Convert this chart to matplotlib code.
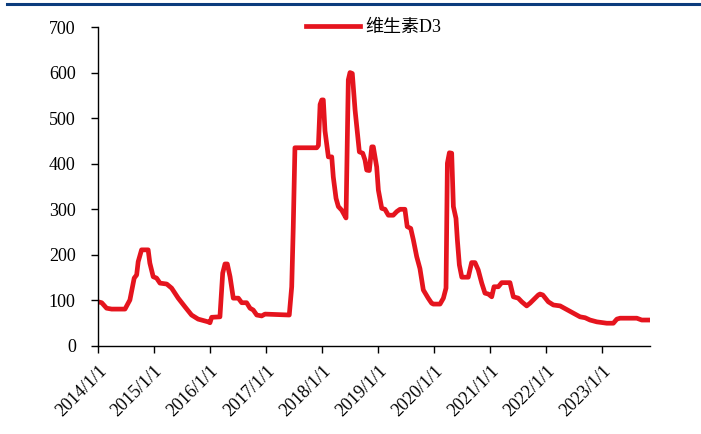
import matplotlib
matplotlib.use("Agg")
import matplotlib.pyplot as plt
import pandas as pd
from matplotlib.lines import Line2D

plt.rcParams['font.family'] = ['Liberation Serif', 'Noto Sans CJK SC']

# values
dates = [
    "2014-01-01", "2014-01-25", "2014-02-26", "2014-03-31", "2014-06-26", "2014-07-28",
    "2014-08-25", "2014-09-10", "2014-09-20", "2014-10-12", "2014-11-24", "2014-12-05",
    "2014-12-27", "2015-01-18", "2015-02-09", "2015-03-25", "2015-04-26", "2015-06-08",
    "2015-07-22", "2015-09-03", "2015-10-16", "2015-12-20", "2016-01-01", "2016-01-12",
    "2016-03-06", "2016-03-24", "2016-04-08", "2016-04-23", "2016-05-11", "2016-06-01",
    "2016-07-04", "2016-07-26", "2016-08-27", "2016-09-18", "2016-10-09", "2016-11-01",
    "2016-12-03", "2016-12-25", "2017-06-01", "2017-06-17", "2017-06-27", "2017-07-08",
    "2017-11-27", "2017-12-08", "2017-12-19", "2017-12-30", "2018-01-09", "2018-01-20",
    "2018-02-11", "2018-03-05", "2018-03-15", "2018-04-02", "2018-04-17", "2018-05-09",
    "2018-05-19", "2018-06-06", "2018-06-21", "2018-07-02", "2018-07-17", "2018-08-04",
    "2018-08-15", "2018-09-01", "2018-09-23", "2018-10-08", "2018-10-19", "2018-11-05",
    "2018-11-21", "2018-12-01", "2018-12-23", "2019-01-03", "2019-01-25", "2019-02-15",
    "2019-03-09", "2019-04-10", "2019-05-03", "2019-05-24", "2019-06-25", "2019-07-10",
    "2019-08-02", "2019-08-19", "2019-09-10", "2019-10-01", "2019-10-23", "2019-11-24",
    "2019-12-16", "2019-12-27", "2020-02-09", "2020-03-02", "2020-03-19", "2020-03-28",
    "2020-04-10", "2020-04-25", "2020-05-06", "2020-05-23", "2020-06-01", "2020-06-14",
    "2020-06-30", "2020-08-11", "2020-09-02", "2020-09-24", "2020-10-15", "2020-11-07",
    "2020-11-28", "2020-12-20", "2021-01-11", "2021-01-26", "2021-02-23", "2021-03-17",
    "2021-05-10", "2021-06-01", "2021-07-03", "2021-07-26", "2021-08-27", "2021-09-18",
    "2021-10-21", "2021-11-11", "2021-11-22", "2021-12-10", "2022-01-15", "2022-02-17",
    "2022-04-02", "2022-05-15", "2022-06-28", "2022-08-10", "2022-09-12", "2022-10-14",
    "2022-11-27", "2023-01-31", "2023-03-15", "2023-04-07", "2023-04-28", "2023-08-15",
    "2023-09-16", "2023-11-09",
]
vd3 = [
    97, 95, 83, 81, 81, 101,
    149, 156, 185, 211, 211, 182,
    152, 149, 138, 136, 127, 105,
    86, 68, 59, 53, 51, 63,
    64, 160, 180, 180, 152, 105,
    105, 95, 95, 83, 79, 68,
    66, 70, 68, 130, 260, 435,
    435, 440, 530, 540, 540, 472,
    415, 415, 371, 324, 306, 298,
    292, 281, 584, 600, 598, 518,
    481, 426, 423, 408, 386, 385,
    437, 437, 393, 342, 302, 300,
    287, 287, 295, 300, 300, 262,
    258, 233, 196, 170, 123, 105,
    94, 92, 92, 105, 127, 401,
    424, 423, 306, 280, 233, 178,
    151, 151, 183, 183, 167, 138,
    116, 114, 108, 130, 130, 139,
    139, 108, 105, 97, 88, 94,
    105, 112, 114, 112, 97, 90,
    88, 80, 72, 64, 62, 57,
    53, 50, 50, 59, 61, 61,
    57, 57,
]
tick_years = list(range(2014, 2024))
tick_labels = [f"{y}/1/1" for y in tick_years]

x = pd.to_datetime(dates)

fig = plt.figure(figsize=(7.01, 4.34), dpi=100)
ax = fig.add_axes([98 / 701, 1 - 346 / 434, (650 - 98) / 701, (346 - 27) / 434])

ax.plot(x, vd3, color='#E5141E', lw=3.4, label='维生素D3', solid_joinstyle='round')

ax.set_ylim(0, 700)
ax.set_yticks(range(0, 701, 100))
ax.set_xlim(pd.Timestamp("2014-01-01"), pd.Timestamp("2023-11-09"))
ax.set_xticks([pd.Timestamp(f"{y}-01-01") for y in tick_years])
ax.set_xticklabels(tick_labels, rotation=45, ha='right', rotation_mode='anchor')

for s in ['top', 'right']:
    ax.spines[s].set_visible(False)
for s in ['left', 'bottom']:
    ax.spines[s].set_linewidth(1.0)
ax.tick_params(direction='out', length=5, width=1, labelsize=13)
ax.tick_params(axis='y', pad=11)
ax.tick_params(axis='x', pad=7)

ax.legend(loc='upper center', bbox_to_anchor=(0.5, 1.075), frameon=False,
          fontsize=13, handlelength=3.0, handletextpad=0.3)

# dark blue header rule across the top
fig.add_artist(Line2D([7 / 701, 1], [1 - 3.5 / 434, 1 - 3.5 / 434],
                      transform=fig.transFigure, color='#0B3C7D', lw=2.2))

fig.savefig("out.png", dpi=100)
